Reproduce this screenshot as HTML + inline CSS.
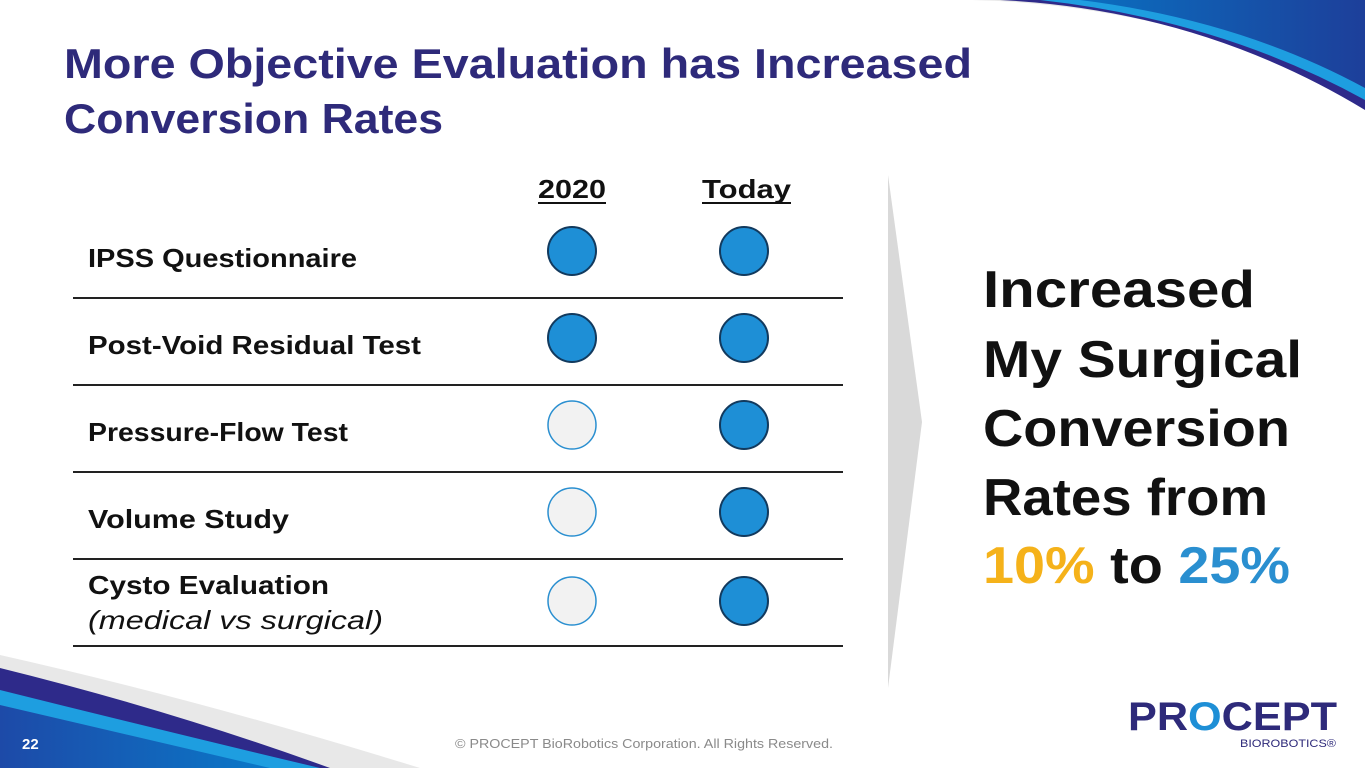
<!DOCTYPE html>
<html><head><meta charset="utf-8"><style>
html,body{margin:0;padding:0;background:#fff;width:1365px;height:768px;overflow:hidden}
svg{display:block}
text{font-family:"Liberation Sans",sans-serif}
</style></head><body>
<svg width="1365" height="768" viewBox="0 0 1365 768">
<defs>
<linearGradient id="gt" x1="0" x2="1"><stop offset="0" stop-color="#0a6fc0"/><stop offset="1" stop-color="#1d3f9a"/></linearGradient>
<linearGradient id="gb" x1="0" x2="1"><stop offset="0" stop-color="#1d4aa8"/><stop offset="1" stop-color="#0a78c8"/></linearGradient>
</defs>
<g>
<path d="M930,0 Q1150,-5 1365,95 L1365,0 Z" fill="#e8e8e8"/>
<path d="M1000,0 Q1200,10 1365,110 L1365,0 Z" fill="#2e2a8a"/>
<path d="M1040,0 Q1220,20 1365,100 L1365,0 Z" fill="#1e9ee0"/>
<path d="M1080,0 Q1240,20 1365,88 L1365,0 Z" fill="url(#gt)"/>
</g>
<g>
<path d="M0,655 Q200,700 420,768 L0,768 Z" fill="#e8e8e8"/>
<path d="M0,668 Q170,710 330,768 L0,768 Z" fill="#2e2a8a"/>
<path d="M0,690 Q160,730 320,768 L0,768 Z" fill="#1e9ee0"/>
<path d="M0,705 Q150,740 270,768 L0,768 Z" fill="url(#gb)"/>
</g>
<text x="64" y="78" font-size="42" font-weight="bold" fill="#2e2a7a" textLength="908" lengthAdjust="spacingAndGlyphs">More Objective Evaluation has Increased</text>
<text x="64" y="133" font-size="42" font-weight="bold" fill="#2e2a7a" textLength="379" lengthAdjust="spacingAndGlyphs">Conversion Rates</text>

<g>
<text x="538" y="198" font-size="26" font-weight="bold" fill="#111" textLength="68" lengthAdjust="spacingAndGlyphs">2020</text>
<rect x="538" y="202" width="68" height="2" fill="#111"/>
<text x="702" y="198" font-size="26" font-weight="bold" fill="#111" textLength="89" lengthAdjust="spacingAndGlyphs">Today</text>
<rect x="702" y="202" width="89" height="2" fill="#111"/>
</g>
<g id="rows"></g>

<polygon points="888,175 922,422 888,688" fill="#d9d9d9"/>

<g font-size="52" font-weight="bold" fill="#111">
<text x="983" y="307" textLength="272" lengthAdjust="spacingAndGlyphs">Increased</text>
<text x="983" y="377" textLength="319" lengthAdjust="spacingAndGlyphs">My Surgical</text>
<text x="983" y="446" textLength="307" lengthAdjust="spacingAndGlyphs">Conversion</text>
<text x="983" y="515" textLength="285" lengthAdjust="spacingAndGlyphs">Rates from</text>
<text x="983" y="583" textLength="307" lengthAdjust="spacingAndGlyphs"><tspan fill="#f5b21a">10%</tspan> to <tspan fill="#2a8fd0">25%</tspan></text>
</g>

<text x="22" y="749" font-size="15" font-weight="bold" fill="#fff">22</text>
<text x="455" y="748" font-size="13" fill="#8a8a8a" textLength="378" lengthAdjust="spacingAndGlyphs">© PROCEPT BioRobotics Corporation. All Rights Reserved.</text>
<g>
<text x="1128" y="730" font-size="40" font-weight="bold" fill="#2e2a7a" textLength="209" lengthAdjust="spacingAndGlyphs">PR<tspan fill="#1e8fd6">O</tspan>CEPT</text>
<text x="1240" y="747" font-size="11" fill="#2e2a7a" textLength="96" lengthAdjust="spacingAndGlyphs">BIOROBOTICS®</text>
</g>
</svg>
<script>
const labels = ["IPSS Questionnaire","Post-Void Residual Test","Pressure-Flow Test","Volume Study","Cysto Evaluation"];
const done2020 = [1,1,0,0,0];
const doneToday = [1,1,1,1,1];
const ns="http://www.w3.org/2000/svg";
const g=document.getElementById('rows');
const rowTop=211, rowH=87, colX=[572,744];
const widths=[269,333,260,201,241];
function mk(t,a){const e=document.createElementNS(ns,t);for(const k in a)e.setAttribute(k,a[k]);g.appendChild(e);return e;}
labels.forEach((lab,i)=>{
  const y0=rowTop+i*rowH;
  const cy=y0+40;
  const tx=mk('text',{x:88,y:(i<4?y0+56:y0+35),'font-size':26,'font-weight':'bold',fill:'#111',textLength:widths[i],lengthAdjust:'spacingAndGlyphs'});
  tx.textContent=lab;
  
  
  if(i===4){const s=mk('text',{x:88,y:y0+70,'font-size':26,'font-style':'italic',fill:'#111',textLength:295,lengthAdjust:'spacingAndGlyphs'});s.textContent='(medical vs surgical)';
    
    }
  [done2020[i],doneToday[i]].forEach((v,j)=>{
    const c=mk('circle',{cx:colX[j],cy:cy+(i===4?2:0),r:24,fill:v?'#1e8fd6':'#f2f2f2',stroke:v?'#123a5e':'#2a8fd0','stroke-width':v?2:1.5});
    
    
  });
  const l=mk('rect',{x:73,y:y0+86,width:770,height:2,fill:'#222'});
  
  
});
</script>
</body></html>
